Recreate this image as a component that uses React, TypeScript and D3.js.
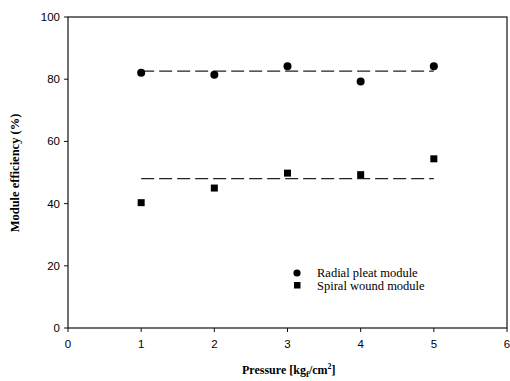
import React from "react";
import * as d3 from "d3";

const pressure = [1, 2, 3, 4, 5];
const radialPleat = [82.1, 81.4, 84.2, 79.3, 84.2];
const spiralWound = [40.3, 45.0, 49.8, 49.3, 54.4];
const radialFit = 82.6;
const spiralFit = 48.0;
const xTicks = [0, 1, 2, 3, 4, 5, 6];
const yTicks = [0, 20, 40, 60, 80, 100];

const App = () => {
  const width = 510, height = 381;
  const margin = { top: 17, right: 3, bottom: 53, left: 68 };
  const x = d3.scaleLinear().domain([0, 6]).range([margin.left, width - margin.right]);
  const y = d3.scaleLinear().domain([0, 100]).range([height - margin.bottom, margin.top]);
  const sans = "'Liberation Sans', Arial, sans-serif";
  const serif = "'Liberation Serif', 'Times New Roman', serif";

  return (
    <svg width={width} height={height} style={{ position: "absolute", left: 0, top: 0 }}>
      <rect x={0} y={0} width={width} height={height} fill="white" />
      {/* frame */}
      <rect x={x(0)} y={y(100)} width={x(6) - x(0)} height={y(0) - y(100)} fill="none" stroke="#111" strokeWidth={1.2} />

      {/* y ticks */}
      {yTicks.map((t) => (
        <g key={"y" + t}>
          <line x1={x(0) - 4} x2={x(0)} y1={y(t)} y2={y(t)} stroke="#111" />
          <text x={x(0) - 8} y={y(t)} dy="0.35em" textAnchor="end" fontFamily={sans} fontSize={11.5}>{t}</text>
        </g>
      ))}
      {/* x ticks */}
      {xTicks.map((t) => (
        <g key={"x" + t}>
          <line x1={x(t)} x2={x(t)} y1={y(0)} y2={y(0) + 4} stroke="#111" />
          <text x={x(t)} y={y(0) + 20} textAnchor="middle" fontFamily={sans} fontSize={11.5}>{t}</text>
        </g>
      ))}

      {/* fit lines */}
      <line x1={x(1)} x2={x(5)} y1={y(radialFit)} y2={y(radialFit)} stroke="#222" strokeWidth={1.2} strokeDasharray="13,5" />
      <line x1={x(1)} x2={x(5)} y1={y(spiralFit)} y2={y(spiralFit)} stroke="#222" strokeWidth={1.2} strokeDasharray="13,5" />

      {/* points */}
      {pressure.map((p, i) => (
        <circle key={"c" + i} cx={x(p)} cy={y(radialPleat[i])} r={4} fill="#000" />
      ))}
      {pressure.map((p, i) => (
        <rect key={"s" + i} x={x(p) - 3.5} y={y(spiralWound[i]) - 3.5} width={7} height={7} fill="#000" />
      ))}

      {/* legend */}
      <circle cx={297} cy={273} r={3.6} fill="#000" />
      <text x={317} y={273} dy="0.35em" fontFamily={serif} fontSize={12.5}>Radial pleat module</text>
      <rect x={294} y={282} width={6.5} height={6.5} fill="#000" />
      <text x={317} y={285.5} dy="0.35em" fontFamily={serif} fontSize={12.5}>Spiral wound module</text>

      {/* axis titles */}
      <text x={242} y={374} fontFamily={serif} fontWeight="bold" fontSize={12} textAnchor="start">
        Pressure [kg<tspan fontSize={9} dy={3}>f</tspan><tspan dy={-3}>/cm</tspan><tspan fontSize={8} dy={-5}>2</tspan><tspan dy={5}>]</tspan>
      </text>
      <text transform={`translate(19,${173}) rotate(-90)`} textAnchor="middle" fontFamily={serif} fontWeight="bold" fontSize={12.5}>
        Module efficiency (%)
      </text>
    </svg>
  );
};

export default App;
